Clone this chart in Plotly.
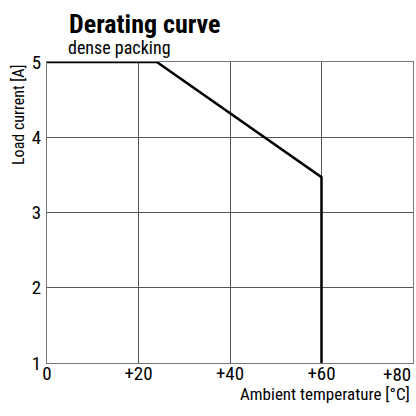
import plotly.graph_objects as go

temps = [0, 24, 60, 60]
currents = [5, 5, 3.47, 1]
x_ticks = [0, 20, 40, 60, 80]
x_tick_labels = ["0", "+20", "+40", "+60", "+80"]
y_ticks = [1, 2, 3, 4, 5]
y_tick_labels = ["1", "2", "3", "4", "5"]

FONT = "Roboto Condensed, DejaVu Sans Condensed, sans-serif"
TICK_SIZE = 19

fig = go.Figure()
fig.add_trace(go.Scatter(x=temps, y=currents, mode="lines",
                         line=dict(color="black", width=2.5), hoverinfo="skip",
                         showlegend=False, cliponaxis=False))

# last x tick label is pulled inside the figure edge, as in the original
shown_x_text = x_tick_labels[:-1] + [""]

fig.update_layout(
    width=416, height=416,
    margin=dict(l=47, r=3, t=62, b=53),
    paper_bgcolor="white", plot_bgcolor="white",
    font=dict(family=FONT, color="black", size=18),
    xaxis=dict(range=[0, 80], tickvals=x_ticks, ticktext=shown_x_text,
               showgrid=True, gridcolor="#555", gridwidth=1,
               showline=True, linecolor="#777", linewidth=1, mirror=True,
               zeroline=False, ticks="", ticklabelstandoff=-7,
               tickfont=dict(size=TICK_SIZE, family=FONT)),
    yaxis=dict(range=[1, 5], tickvals=y_ticks, ticktext=y_tick_labels,
               showgrid=True, gridcolor="#555", gridwidth=1,
               showline=True, linecolor="#777", linewidth=1, mirror=True,
               zeroline=False, ticks="", ticklabelstandoff=1,
               tickfont=dict(size=TICK_SIZE, family=FONT)),
    annotations=[
        dict(text=x_tick_labels[-1], xref="x", yref="paper",
             x=x_ticks[-1], y=-(374 - 363) / 301, xanchor="right", yanchor="middle",
             showarrow=False, font=dict(size=TICK_SIZE, family=FONT)),
        dict(text="<b>Derating curve</b>", xref="paper", yref="paper",
             x=(67 - 47) / 366, y=1 + (62 - 7) / 301, xanchor="left", yanchor="top",
             showarrow=False, font=dict(size=26, family=FONT)),
        dict(text="dense packing", xref="paper", yref="paper",
             x=(66 - 47) / 366, y=1 + (62 - 35) / 301, xanchor="left", yanchor="top",
             showarrow=False, font=dict(size=18, family=FONT)),
        dict(text="Load current [A]", xref="paper", yref="paper",
             x=-(47 - 7) / 366, y=1, xanchor="left", yanchor="top", textangle=-90,
             showarrow=False, font=dict(size=16, family=FONT)),
        dict(text="Ambient temperature [°C]", xref="paper", yref="paper",
             x=(412 - 47) / 366, y=-(382 - 363) / 301, xanchor="right", yanchor="top",
             showarrow=False, font=dict(size=17, family=FONT)),
    ],
)

fig.write_html("out.html", config={"displayModeBar": False},
               post_script="document.body.style.margin='0';")
